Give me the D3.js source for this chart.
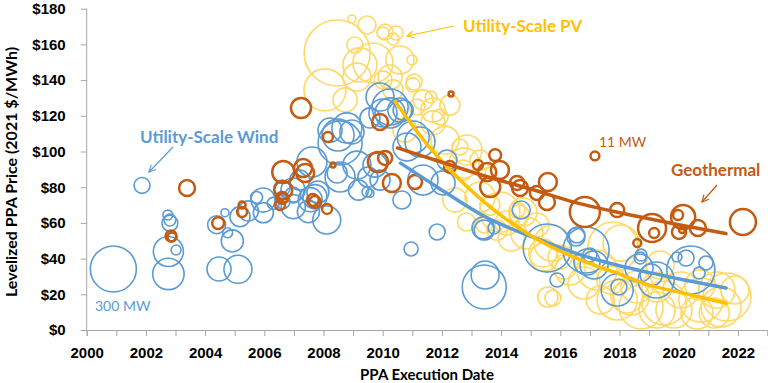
<!DOCTYPE html>
<html><head><meta charset="utf-8">
<script src="https://cdn.jsdelivr.net/npm/d3@7/dist/d3.min.js"></script>
<style>body{margin:0;background:#fff}svg{display:block;font-family:Lato,"Open Sans",sans-serif}</style>
</head><body><svg id="c" width="768" height="383"></svg>
<script>
// [year, price $/MWh, capacity MW]
const windPoints = [
[2000.9,34.2,300],[2001.87,81,36],[2002.76,31.4,140],[2002.76,44,128],[2003.02,44.8,14],[2002.81,59.8,36],[2002.74,64.4,14],[2002.81,61.6,20],
[2004.47,34.2,82],[2005.11,34,111],[2004.92,49.9,69],[2004.76,54.5,14],[2004.39,59,46],[2004.67,65.7,9],[2005.18,63.5,57],[2005.46,66.7,57],
[2005.97,65.7,57],[2005.74,74.3,20],[2006.3,71,20],[2006.98,69.1,82],[2007.49,66.3,69],[2007.71,74.7,82],[2008.11,61.6,111],[2009.18,78.4,57],
[2009.57,76.6,9],[2006.63,71.9,28],[2006.97,75.6,36],
[2008.56,104.8,275],[2008.96,110.9,82],[2008.49,109.2,145],[2007.61,94.1,128],[2008.56,85.7,128],[2007.81,77.3,69],[2006.97,78.4,82],
[2005.96,72.8,82],[2009.47,77.3,14],[2009.5,85.7,57],[2009.13,92.4,111],[2007.2,84,57],[2006.6,79.6,36],[2008.46,88,57],[2007.55,73,82],
[2009.91,130.5,111],[2010.25,121.6,128],[2010.58,123.2,82],[2009.57,118.8,57],[2008.79,113.2,128],[2008.22,112,82],[2010.25,124.9,184],
[2010.01,121.6,111],[2010.69,123.2,57],[2011.03,108.1,145],[2011.26,105.3,128],[2010.82,102.5,111],[2011.36,84,128],[2012.04,82.4,82],
[2010.65,72.8,46],[2012.17,95.2,57],[2009.74,92.4,82],[2009.91,84,57],
[2011.84,54.9,36],[2010.96,45.4,28],[2013.43,24.1,275],[2013.46,30.8,111],[2013.76,57.1,20],[2013.43,56,57],[2014.68,67.2,46],[2015.56,45.9,327],
[2015.89,28,28],[2016.53,52.1,46],[2016.87,44.8,300],[2016.9,38.1,96],[2017.14,36.4,111],[2017,42,28],[2017.92,22.4,145],[2017.98,24.1,36],
[2018.66,34.7,111],[2018.73,42,20],[2019.07,30.8,69],[2019.24,28,184],[2020.41,33.6,327],[2019.94,40.9,14],[2020.25,40.3,36],[2020.92,37.5,28],
[2020.69,31.9,20],[2013.39,57.1,69],[2016.56,53.2,36],[2018.7,40.3,20]
];
const pvPoints = [
[2008.46,155.2,617],[2008.05,134.5,250],[2008.96,174.2,9],[2009.47,170.9,46],[2010.01,166.4,20],[2010.08,166.9,36],[2010.35,163,20],
[2009.23,148.5,164],[2009.67,149.6,227],[2009.13,141.7,111],[2010.99,151.3,14],[2010.25,141.7,82],[2010.01,140.1,46],[2011.02,137.3,28],
[2010.35,134.5,57],[2011.36,128.9,57],[2011.7,123.2,82],[2011.16,124.9,36],[2010.45,166.4,28],[2011.06,138.9,36],[2011.63,130.5,20],
[2011.7,116,82],[2011.94,119.3,36],[2012.85,100.8,128],[2012.61,102.5,36],[2013.29,95.2,57],[2012.71,89.6,57],[2012.75,93.6,128],
[2013.66,88,20],[2009.06,159.7,36],[2008.73,128.9,82],[2010.58,151.3,111],[2010.75,112,82],[2012.1,106.4,111],[2012.27,126,57],
[2013.29,74.5,128],[2013.96,66.1,227],[2014.74,66.1,111],[2015.21,58.8,82],[2015.72,48.7,184],[2015.41,43.1,111],[2015.99,40.9,82],
[2015.58,18.5,57],[2015.75,17.9,36],[2016.33,33.6,128],[2017.78,46.5,354],[2012.83,60.5,46],[2013.43,58.8,36],[2013.86,56,57],
[2014.2,59.9,82],[2014.54,67.2,36],[2014.61,64.4,57],[2014.34,51.5,96],[2014.87,54.3,145],[2015.45,40.9,111],[2016.13,35.3,82],
[2017.24,33.6,227],[2018.05,48.7,184],[2016.8,26.3,145],[2017.71,28,111],[2013.62,70,57],[2012.44,72.8,82],
[2017.92,16.8,227],[2018.39,18.5,184],[2018.73,12.9,275],[2019.51,15.1,275],[2019.27,11.2,184],[2020.08,22.4,184],[2020.75,16.8,275],
[2021.29,22.4,184],[2021.63,18.5,327],[2021.43,12.9,227],[2021.2,9.5,128],[2019.84,11.2,184],[2020.62,9.5,145],[2018.59,24.1,145],
[2018.25,18.5,145],[2019.27,24.1,128],[2021.9,22.4,111],[2017.35,16.8,111],[2020.72,25.2,128],[2019.37,36.4,111]
];
const geoPoints = [
[2003.39,79.6,36],[2002.85,52.7,17],[2002.88,52.1,11],[2004.44,59.9,20],[2005.25,66.1,14],[2005.25,70,7],[2006.53,70,14],[2006.63,74,14],
[2007.64,72.8,20],[2008.12,67.8,14],[2007.24,124.4,57],[2008.15,108.1,14],[2006.64,88.5,69],[2007.38,88,46],[2007.31,90.8,46],
[2006.64,78.4,46],[2006.6,74,20],[2007.71,71.7,20],[2008.32,92.4,3.5],[2009.84,94.1,57],[2009.91,116.5,36],[2012.31,132.2,3.5],
[2010.08,96.4,28],[2010.31,82.4,46],[2011.09,82.9,28],[2012.27,91.3,20],[2013.22,92.4,14],[2013.8,98,20],[2013.63,80.1,57],
[2013.53,88.5,46],[2013.96,89.6,46],[2014.64,79.6,36],[2015.21,76.8,28],[2015.58,82.9,46],[2015.55,71.7,36],[2016.83,66.1,128],
[2017.17,97.5,11],[2017.92,67.2,28],[2019.1,57.1,111],[2019.17,54.3,14],[2018.6,48.7,9],[2020.15,63.3,82],[2019.98,64.4,14],
[2020.01,54.9,28],[2020.11,56,5],[2020.65,57.1,36],[2022.17,60.5,96],[2014.54,82.4,28]
];
const windTrend = [[2010.6,93.5],[2011.85,80],[2013.4,64],[2015.55,49],[2016.8,41.5],[2017.9,36.4],[2019.05,32],[2020.2,28],[2021.6,23.5]];
const pvTrend = [[2010.42,128],[2011.5,104],[2012.5,86],[2013.7,68],[2015,53],[2016.8,38.5],[2017.9,32],[2019.05,25],[2020.2,20.5],[2021.6,15]];
const geoTrend = [[2010.5,102],[2012,94],[2013.5,86],[2015,79],[2016.5,71.5],[2018.5,64],[2020,59],[2021.6,54]];
const xTickLabels = [2000,2002,2004,2006,2008,2010,2012,2014,2016,2018,2020,2022];
const yTickValues = [0,20,40,60,80,100,120,140,160,180];

const C = {wind:"#5B9BD5", pv:"#FFD966", pvLine:"#FFC000", geo:"#C55A11", axis:"#A6A6A6"};
const svg = d3.select("#c");
const x = d3.scaleLinear().domain([2000,2023]).range([86.7,767.5]);
const y = d3.scaleLinear().domain([0,180]).range([330,8.7]);
const r = d3.scaleSqrt().domain([0,300]).range([0,23]);

// axes
const xAxis = d3.axisBottom(x).tickValues(d3.range(2000,2024)).tickSize(6)
  .tickFormat(d => xTickLabels.includes(d) ? d : "");
const gx = svg.append("g").attr("transform","translate(0,330)").call(xAxis);
gx.select(".domain").attr("stroke",C.axis);
gx.selectAll(".tick line").attr("stroke",C.axis);
gx.selectAll("text").attr("fill","#000").attr("font-size",15).attr("font-weight","bold").attr("dy","1.25em");

const yAxis = d3.axisLeft(y).tickValues(yTickValues).tickSize(6).tickPadding(15).tickFormat(d => "$"+d);
const gy = svg.append("g").attr("transform","translate(86.7,0)").call(yAxis);
gy.select(".domain").attr("stroke",C.axis).attr("d","M0,8.7V330");
gy.selectAll(".tick line").attr("stroke",C.axis);
gy.selectAll("text").attr("fill","#000").attr("font-size",15).attr("font-weight","bold");

// bubbles
function bubbles(data, color, sw){
  svg.append("g").selectAll("circle").data(data).join("circle")
    .attr("cx",d=>x(d[0])).attr("cy",d=>y(d[1])).attr("r",d=>r(d[2]))
    .attr("fill","none").attr("stroke",color).attr("stroke-width",sw);
}
bubbles(pvPoints, C.pv, 1.6);
bubbles(windPoints, C.wind, 1.6);
bubbles(geoPoints, C.geo, 2.5);

// trend lines
const line = d3.line().x(d=>x(d[0])).y(d=>y(d[1])).curve(d3.curveMonotoneX);
svg.append("path").datum(windTrend).attr("d",line).attr("fill","none").attr("stroke",C.wind).attr("stroke-width",3.5).attr("stroke-linecap","round");
svg.append("path").datum(pvTrend).attr("d",line).attr("fill","none").attr("stroke",C.pvLine).attr("stroke-width",3.5).attr("stroke-linecap","round");
svg.append("path").datum(geoTrend).attr("d",line).attr("fill","none").attr("stroke",C.geo).attr("stroke-width",3.5).attr("stroke-linecap","round");

// arrows
const defs = svg.append("defs");
[["aw",C.wind],["ap",C.pvLine],["ag",C.geo]].forEach(([id,col])=>{
  defs.append("marker").attr("id",id).attr("viewBox","0 0 10 10").attr("refX",9).attr("refY",5)
   .attr("markerWidth",7).attr("markerHeight",7).attr("orient","auto-start-reverse")
   .append("path").attr("d","M1,1L9,5L1,9").attr("fill","none").attr("stroke",col).attr("stroke-width",1.4);
});
function arrow(x1,y1,x2,y2,col,id){
  svg.append("line").attr("x1",x1).attr("y1",y1).attr("x2",x2).attr("y2",y2)
    .attr("stroke",col).attr("stroke-width",1.2).attr("marker-end",`url(#${id})`);
}
arrow(173,147,149,172,C.wind,"aw");
arrow(454,26,407,36,C.pvLine,"ap");
arrow(717,185,702,202,C.geo,"ag");

// annotations
function label(t,xx,yy,col,bold,size,anchor){
  svg.append("text").attr("x",xx).attr("y",yy).attr("fill",col).attr("font-size",size)
    .attr("font-weight",bold?"bold":"normal").attr("text-anchor",anchor||"start").text(t);
}
label("Utility-Scale Wind",140,143,C.wind,true,17);
label("Utility-Scale PV",463,32,C.pvLine,true,17);
label("Geothermal",671,176,C.geo,true,17);
label("11 MW",599,147,C.geo,false,14);
label("300 MW",95,311,C.wind,false,14);

// axis titles
svg.append("text").attr("x",427).attr("y",380).attr("text-anchor","middle").attr("font-size",15)
  .attr("font-weight","bold").text("PPA Execution Date");
svg.append("text").attr("transform","translate(17,172) rotate(-90)").attr("text-anchor","middle")
  .attr("font-size",16).attr("font-weight","bold").text("Levelized PPA Price (2021 $/MWh)");
</script></body></html>
